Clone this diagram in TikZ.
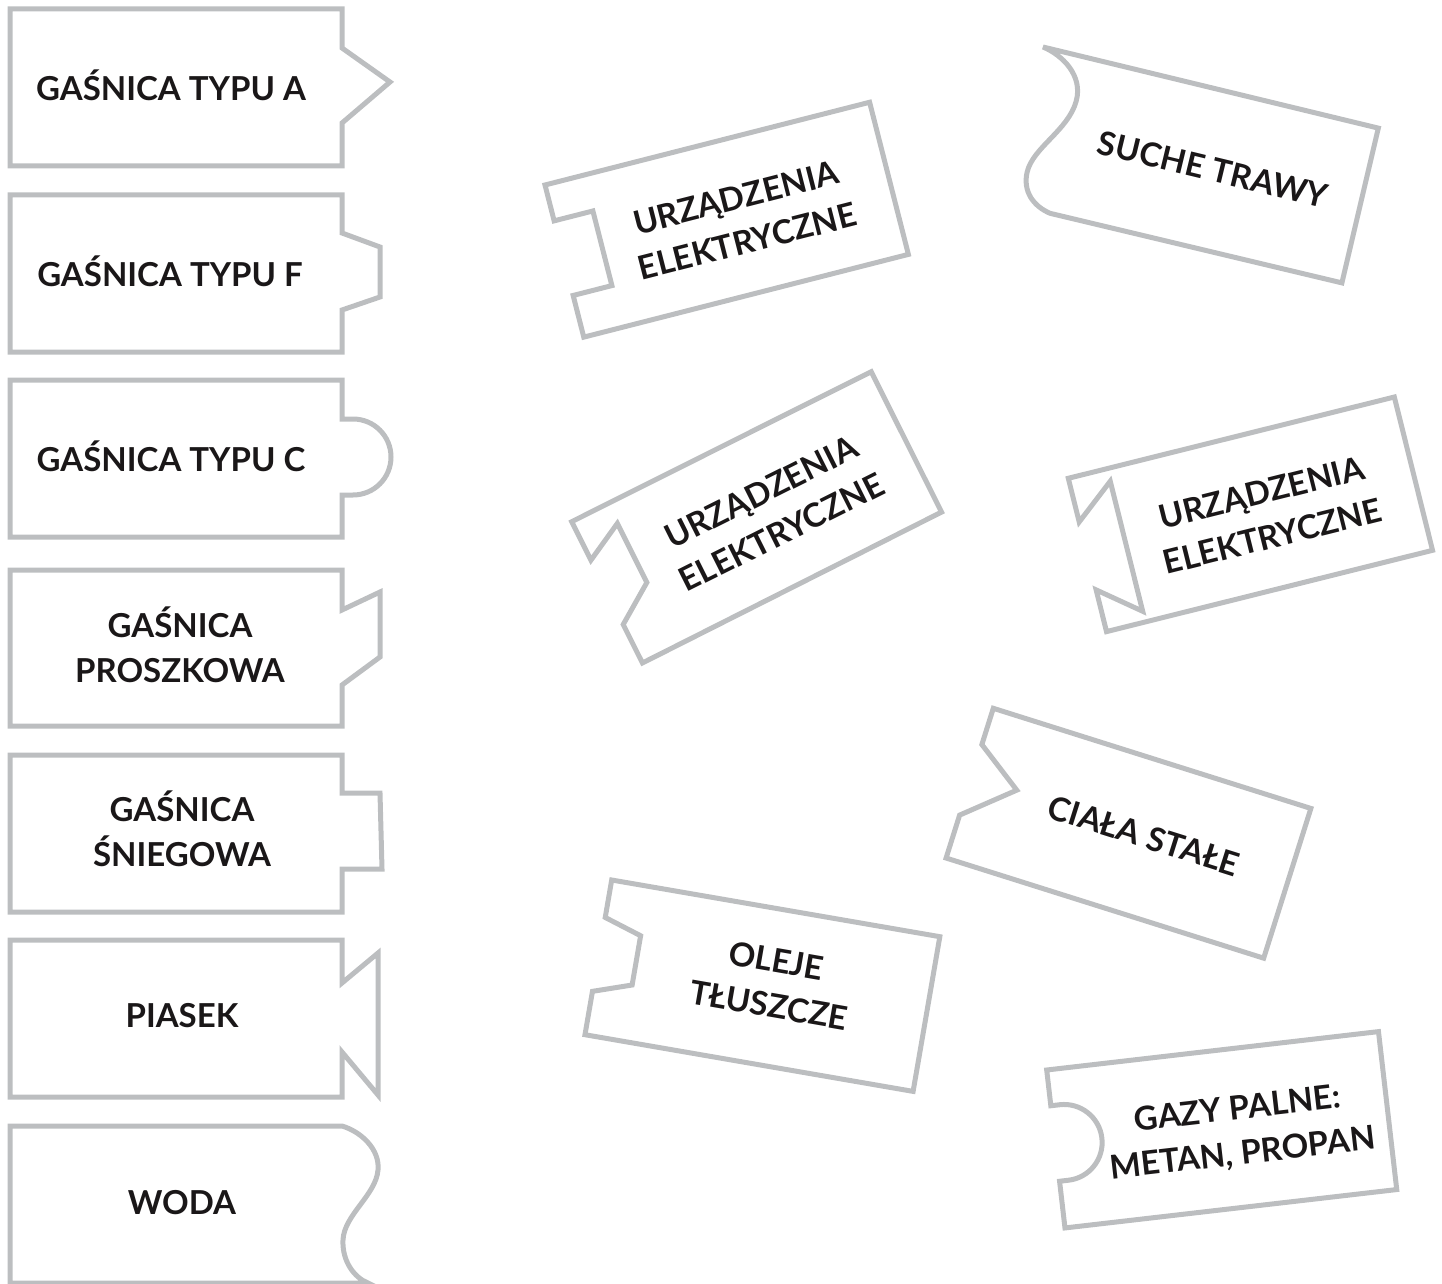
\documentclass[tikz,border=0pt]{standalone}
\usepackage{fontspec}
\setmainfont{Lato}
\usepackage{tikz}
\definecolor{tabgray}{HTML}{BCBEC0}
\definecolor{ink}{HTML}{1A1718}

\begin{document}
\begin{tikzpicture}[
    x=0.5pt, y=-0.5pt,
    card/.style = {draw=tabgray, line width=2.5pt, line join=miter},
    every node/.style = {text=ink, align=center, inner sep=0pt,
      font=\fontsize{16.5}{22.5}\selectfont\bfseries}
  ]
  \useasboundingbox (0,0) rectangle (1442,1284);

  % 左列
  \draw[card] (10,9) -- (342,9) -- (342,48) -- (390,82) -- (342,123) -- (342,166) -- (10,166) -- cycle;
  \node (typa) at (171,85) {GAŚNICA TYPU A};

  \draw[card] (10,195) -- (342,195) -- (342,233) -- (380,247) -- (380,297) -- (342,310) -- (342,352) -- (10,352) -- cycle;
  \node (typf) at (170,271) {GAŚNICA TYPU F};

  \draw[card] (10,380) -- (342,380) -- (342,419) -- (353,419)
    .. controls (374,419) and (391,436) .. (391,457)
    .. controls (391,478) and (374,495) .. (353,495) -- (342,495) -- (342,537) -- (10,537) -- cycle;
  \node (typc) at (171,456) {GAŚNICA TYPU C};

  \draw[card] (10,570) -- (342,570) -- (342,610) -- (380,592) -- (380,657) -- (342,685) -- (342,726) -- (10,726) -- cycle;
  \node (prosz) at (180,645) {GAŚNICA\\PROSZKOWA};

  \draw[card] (10,755) -- (342,755) -- (342,793) -- (380,793) -- (382,869) -- (342,869) -- (342,912) -- (10,912) -- cycle;
  \node (sniegowa) at (182,829) {GAŚNICA\\ŚNIEGOWA};

  \draw[card] (10,940) -- (342,940) -- (342,983) -- (378,953) -- (378,1095) -- (342,1052) -- (342,1097) -- (10,1097) -- cycle;
  \node (piasek) at (182,1016) {PIASEK};

  \draw[card] (10,1126) -- (342,1126)
    .. controls (362,1132) and (380,1150) .. (378,1170)
    .. controls (376,1195) and (344,1215) .. (343,1240)
    .. controls (342,1262) and (355,1278) .. (368,1283) -- (10,1283) -- cycle;
  \node (woda) at (182,1203) {WODA};

  % karty po prawej
  \begin{scope}[shift={(545,185)}, rotate=14.3, transform shape]
    \draw[card] (0,0) -- (335,0) -- (335,157) -- (0,157) -- (0,114) -- (40,114) -- (40,37) -- (0,37) -- cycle;
    \node (elek1) at (182,82) {URZĄDZENIA\\ELEKTRYCZNE};
  \end{scope}

  \begin{scope}[shift={(1043,47)}, rotate=-13.6, transform shape]
    \draw[card] (0,0) .. controls (20,3) and (46,18) .. (45,45)
      .. controls (44,75) and (14,100) .. (14,125)
      .. controls (14,145) and (28,157) .. (46,160) -- (346,159) -- (345,0) -- cycle;
    \node (trawy) at (194,79) {SUCHE TRAWY};
  \end{scope}

  \begin{scope}[shift={(571.7,521.7)}, rotate=26.6, transform shape]
    \draw[card] (0,0) -- (335,0) -- (335,157) -- (0,158) -- (0,115) -- (40,88) -- (40,22) -- (0,43) -- cycle;
    \node (elek2) at (183,81) {URZĄDZENIA\\ELEKTRYCZNE};
  \end{scope}

  \begin{scope}[shift={(1068.3,478.3)}, rotate=14, transform shape]
    \draw[card] (0,0) -- (336,0) -- (336,158) -- (0,158) -- (0,115) -- (40,147) -- (40,13) -- (0,45) -- cycle;
    \node (elek3) at (184,83) {URZĄDZENIA\\ELEKTRYCZNE};
  \end{scope}

  \begin{scope}[shift={(993.3,708.3)}, rotate=-17.5, transform shape]
    \draw[card] (0,0) -- (333,0) -- (333,157) -- (0,157) -- (0,112) -- (47,71) -- (0,38) -- cycle;
    \node (stale) at (182,76) {CIAŁA STAŁE};
  \end{scope}

  \begin{scope}[shift={(611.7,880)}, rotate=-9.8, transform shape]
    \draw[card] (0,0) -- (333,0) -- (333,157) -- (0,157) -- (0,113) -- (38,100) -- (38,50) -- (0,38) -- cycle;
    \node (oleje) at (176,74) {OLEJE\\TŁUSZCZE};
  \end{scope}

  \begin{scope}[shift={(1046.7,1070)}, rotate=6.6, transform shape]
    \draw[card] (0,0) -- (334,0) -- (334,159) -- (0,159) -- (0,112) -- (9,112)
      .. controls (30,112) and (47,95) .. (47,74)
      .. controls (47,53) and (30,36) .. (9,36) -- (0,36) -- cycle;
    \node (gazy) at (185,84) {GAZY PALNE:\\METAN, PROPAN};
  \end{scope}
\end{tikzpicture}
\end{document}
